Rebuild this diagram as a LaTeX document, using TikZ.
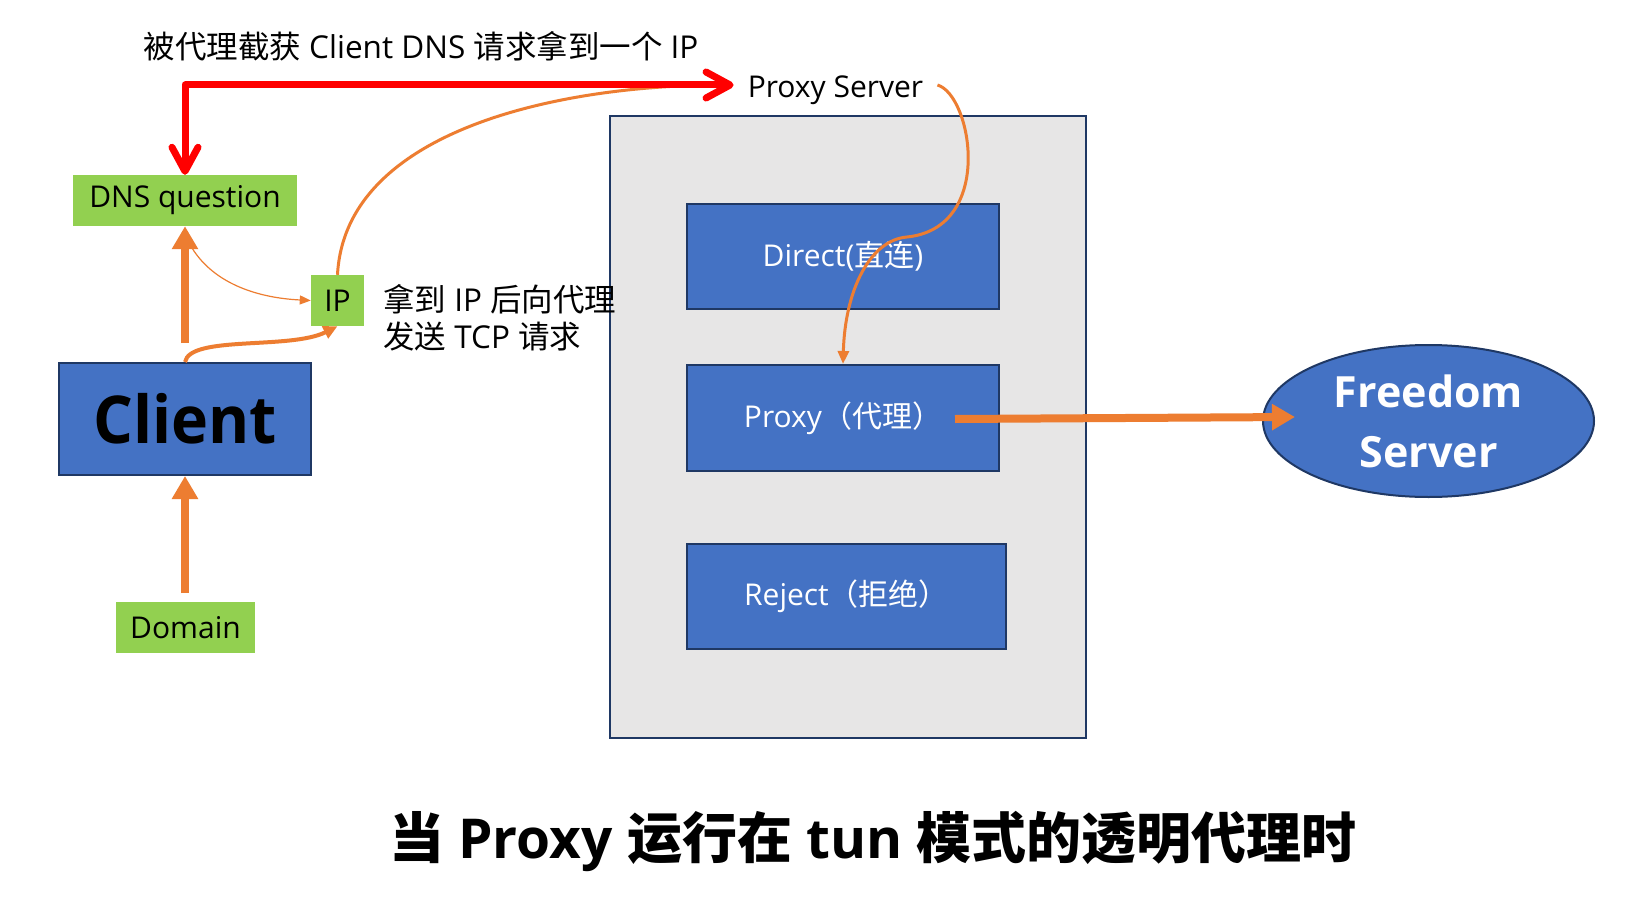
\documentclass[tikz,border=0pt]{standalone}
\usepackage{fontspec}
\usepackage{graphicx}
\setmainfont{Open Sans}
\newfontfamily\cjkf{Noto Sans CJK SC}
\newcommand\zht[1]{{\cjkf #1}}
\usetikzlibrary{arrows.meta,shapes.geometric}
\definecolor{boxblue}{HTML}{4472C4}
\definecolor{navyline}{HTML}{1F3864}
\definecolor{boxgreen}{HTML}{92D050}
\definecolor{panelgray}{HTML}{E7E6E6}
\definecolor{arrorange}{HTML}{ED7D31}
\definecolor{arrred}{HTML}{FF0000}
\begin{document}
\begin{tikzpicture}[x=1pt,y=-1pt,
  txt/.style={font=\fontsize{30}{37}\selectfont, inner sep=0pt},
  bigtxt/.style={font=\fontsize{31.5}{37}\selectfont, inner sep=0pt},
  bluebox/.style={draw=navyline, line width=2pt, fill=boxblue, inner sep=0pt, text=white, font=\fontsize{30}{37}\selectfont},
  greenbox/.style={fill=boxgreen, inner sep=0pt, font=\fontsize{30}{37}\selectfont},
  thickarrow/.style={draw=arrorange, line width=8pt, -{Triangle[length=23pt,width=25pt]}},
  medarrow/.style={draw=arrorange, line width=4pt, -{Triangle[length=14pt,width=13pt]}},
  curvearrow/.style={draw=arrorange, line width=3pt, -{Triangle[length=13pt,width=11pt]}},
  thinarrow/.style={draw=arrorange, line width=1.2pt, -{Triangle[length=11pt,width=9pt]}},
  redarrow/.style={draw=arrred, line width=7pt, line join=round, {Straight Barb[length=24pt,width=26pt,round]}-{Straight Barb[length=24pt,width=26pt,round]}}
]
\fill[white] (0,0) rectangle (1632,904);
\useasboundingbox (0,0) rectangle (1632,904);

% panel and boxes
\node[draw=navyline, line width=2pt, fill=panelgray, minimum width=476pt, minimum height=622pt, inner sep=0pt] (panel) at (848,427) {};
\node[bluebox, minimum width=312pt, minimum height=105pt] (direct) at (843,256.5) {Direct(\zht{直连})};
\node[bluebox, minimum width=312pt, minimum height=106pt] (proxy) at (843,418) {Proxy\zht{（代理）}};
\node[bluebox, minimum width=319pt, minimum height=105pt] (reject) at (846.5,596.5) {Reject\zht{（拒绝）}};

\node[bluebox, text=black, minimum width=252pt, minimum height=112pt, font=\fontsize{66}{70}\selectfont\bfseries] (client) at (185,419) {\scalebox{0.95}[1]{Client}};
\node[greenbox, minimum width=224pt, minimum height=51pt] (dns) at (185,200.5) {DNS question};
\node[greenbox, minimum width=53pt, minimum height=51pt] (ip) at (337.5,300.5) {IP};
\node[greenbox, minimum width=139pt, minimum height=51pt] (domain) at (185.5,627.5) {Domain};

\node[ellipse, draw=navyline, line width=2pt, fill=boxblue, text=white, minimum width=331pt, minimum height=152pt, inner sep=0pt, align=center, font=\fontsize{43}{60}\selectfont\bfseries] (fs) at (1428.5,421) {Freedom\\Server};

\node[txt, inner xsep=14pt, text height=26pt, text depth=0pt] (ps) at (835.5,85) {Proxy Server};
\node[bigtxt] (toplabel) at (421,46) {\zht{被代理截获} Client DNS \zht{请求拿到一个} IP};
\node[bigtxt, anchor=west, align=left] (note) at (383,318) {\zht{拿到} IP \zht{后向代理}\\\zht{发送} TCP \zht{请求}};
\node[inner sep=0pt, font=\fontsize{55}{60}\selectfont\bfseries] (title) at (873,841) {\zht{当} Proxy \zht{运行在} tun \zht{模式的透明代理时}};

% coordinates
\coordinate (c2d) at (185,343);
\coordinate (d2c) at (185,593);
\coordinate (p2f) at (955,419);
\coordinate (ftip) at (1295,417);
\coordinate (thinstart) at (192,248);

% connectors
\draw[thickarrow] (c2d) -- (dns.south);
\draw[thickarrow] (d2c) -- (client.south);
\draw[thickarrow] (p2f) -- (ftip);
\draw[thinarrow] (thinstart) .. controls (215,285) and (260,298) .. (ip.west);
\draw[medarrow] (client.north) .. controls (190,335) and (290,350) .. (ip.south);
\draw[curvearrow] (ip.north) .. controls (345,130) and (560,85) .. (ps.west);
\draw[curvearrow] (ps.east) .. controls (972,95) and (995,228) .. (907,237) .. controls (870,240) and (845,290) .. (proxy.north);
\draw[redarrow] (ps.west) -- (ps.west -| dns.north) -- (dns.north);
\end{tikzpicture}
\end{document}
